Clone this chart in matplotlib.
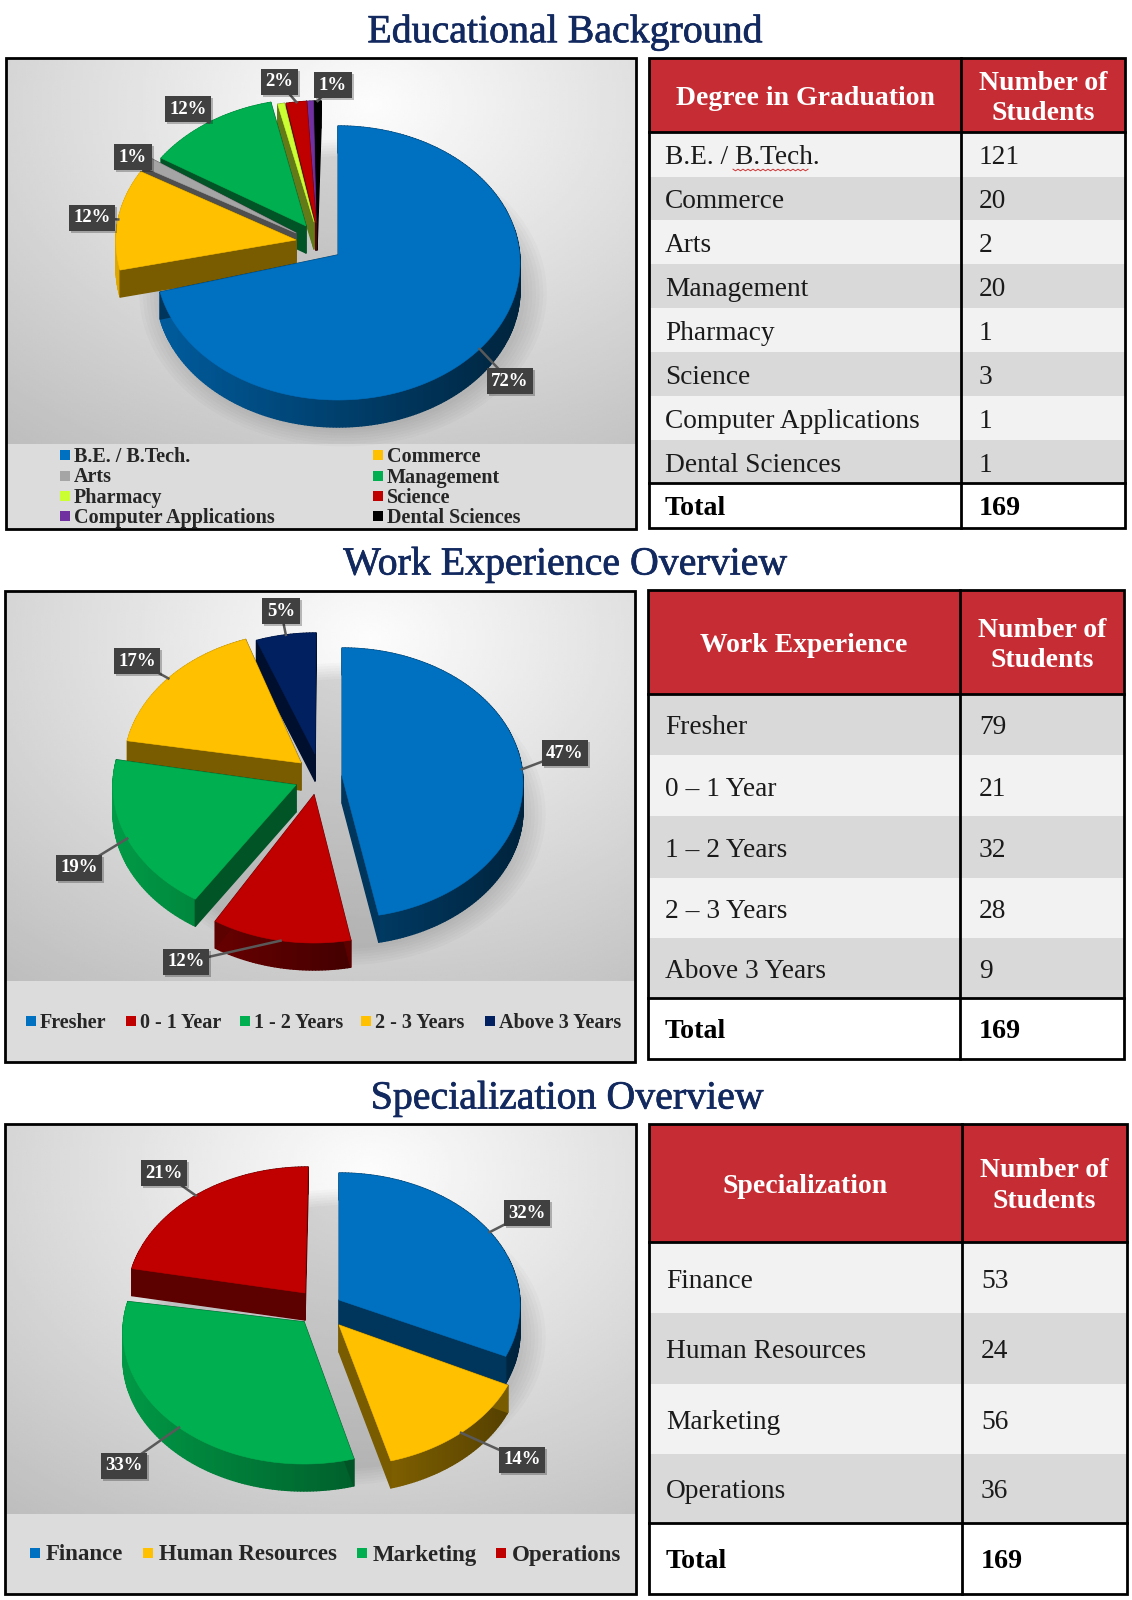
# -*- coding: utf-8 -*-

import numpy as np
import matplotlib
matplotlib.use('Agg')
import matplotlib.pyplot as plt
import matplotlib.patheffects as pe
from matplotlib.collections import PolyCollection
from matplotlib.patches import Ellipse, Polygon, Rectangle

# chart data
degree_names = ['B.E. / B.Tech.', 'Commerce', 'Arts', 'Management', 'Pharmacy',
                'Science', 'Computer Applications', 'Dental Sciences']
degree_counts = [121, 20, 2, 20, 1, 3, 1, 1]
degree_labels = ['72%', '12%', '1%', '12%', '', '2%', '', '1%']

work_names = ['Fresher', '0 - 1 Year', '1 - 2 Years', '2 - 3 Years', 'Above 3 Years']
work_rows = ['Fresher', '0 – 1 Year', '1 – 2 Years', '2 – 3 Years', 'Above 3 Years']
work_counts = [79, 21, 32, 28, 9]
work_labels = ['47%', '12%', '19%', '17%', '5%']

spec_names = ['Finance', 'Human Resources', 'Marketing', 'Operations']
spec_counts = [53, 24, 56, 36]
spec_labels = ['32%', '14%', '33%', '21%']

total_students = 169

BLUE, YELLOW, GRAY, GREEN = '#0070C0', '#FFC000', '#A5A5A5', '#00B050'
LIME, RED, PURPLE, BLACK, NAVY = '#CCFF33', '#C00000', '#7030A0', '#000000', '#002060'
TITLE_COL = '#12295F'
FONT = 'Liberation Serif'

degree_cols = [BLUE, YELLOW, GRAY, GREEN, LIME, RED, PURPLE, BLACK]
work_cols = [BLUE, RED, GREEN, YELLOW, NAVY]
spec_cols = [BLUE, YELLOW, GREEN, RED]

# exploded offsets of each slice in pixels: arc dx, arc dy, apex dx, apex dy
degree_shift = [(0, 0, 0, -8), (-40, -22, -42, -23), (-38, -27, -42, -30), (-27, -27, -32, -37),
                (-20, -25, -24, -41), (-18, -25, -22, -40), (-18, -25, -22, -40), (-17, -25, -21, -40)]
work_shift = [(4, -1, 4, -8), (-24, 24, -24, 11), (-44, 2, -42, 1), (-33, -17, -37, -21), (-22, -16, -23, -30)]
spec_shift = [(1, -2, 1, -7), (3, 27, 1, 18), (-34, 25, -34, 15), (-30, -8, -33, -14)]

degree_label_pos = [(510, 381), (92, 218), (133, 157), (188, 109), None, (279, 82), None, (333, 85)]
work_label_pos = [(565, 753), (186, 962), (79, 868), (137, 661), (281, 611)]
spec_label_pos = [(527, 1213), (522, 1460), (124, 1466), (164, 1173)]


def shade(col, k):
    return tuple(np.array(matplotlib.colors.to_rgb(col)) * k)


def panel(ax, x0, x1, y0, y1, band_y):
    # soft grey backdrop, lightest near the top middle
    yy, xx = np.mgrid[0:1:200j, 0:1:200j]
    dist = np.sqrt(((xx - 0.58) / 0.8) ** 2 + ((yy - 0.12) / 0.95) ** 2)
    img = np.clip(0.99 - 0.21 * dist, 0, 1)
    ax.imshow(img, cmap='gray', vmin=0, vmax=1, extent=(x0, x1, band_y, y0),
              aspect='auto', zorder=1, interpolation='bilinear')
    ax.add_patch(Rectangle((x0, band_y), x1 - x0, y1 - band_y, fc='#DCDCDC', ec='none', zorder=1))


def draw_pie(ax, counts, cols, shifts, cx, cy, rx, ry, depth):
    # soft shadow behind the pie
    for s in np.linspace(1.12, 1.0, 7):
        ax.add_patch(Ellipse((cx + 5, cy + depth + 3), 2 * rx * s, 2 * ry * s,
                             fc='#000000', ec='none', alpha=0.02, zorder=2))
    ends = np.cumsum(counts) / np.sum(counts) * 2 * np.pi
    starts = np.r_[0, ends[:-1]]
    mids = (starts + ends) / 2
    order = np.argsort(cy - ry * np.cos(mids))
    z = 3.0
    arc_mid = []
    for i in range(len(counts)):
        sx, sy = shifts[i][:2]
        arc_mid.append((cx + sx + rx * np.sin(mids[i]), cy + sy - ry * np.cos(mids[i])))
    for i in order:
        sx, sy, ax_, ay_ = shifts[i]
        n = max(3, int(np.degrees(ends[i] - starts[i])) + 1)
        th = np.linspace(starts[i], ends[i], n)
        arc = np.c_[cx + sx + rx * np.sin(th), cy + sy - ry * np.cos(th)]
        apex = np.array([cx + ax_, cy + ay_])
        # outer wall, darker towards the right, red is darker overall
        wall = 0.62 if cols[i] == RED else 0.82
        polys, faces = [], []
        for a, b in zip(arc[:-1], arc[1:]):
            polys.append([a, b, b + (0, depth), a + (0, depth)])
            f = (a[0] - (cx - rx)) / (2 * rx)
            faces.append(shade(cols[i], wall - 0.5 * f))
        # the two cut faces
        for a, b in ((apex, arc[0]), (apex, arc[-1])):
            polys.append([a, b, b + (0, depth), a + (0, depth)])
            faces.append(shade(cols[i], 0.48))
        ax.add_collection(PolyCollection(polys, facecolors=faces, edgecolors=faces,
                                         linewidths=1.0, zorder=z))
        ax.add_patch(Polygon(np.vstack([apex, arc]), closed=True, fc=cols[i], ec=cols[i],
                             lw=0.4, zorder=z + 0.1))
        z += 0.2
    return arc_mid


def data_labels(ax, labels, pos, arc_mid):
    for txt, p, m in zip(labels, pos, arc_mid):
        if p is None:
            continue
        ax.plot([m[0], p[0]], [m[1], p[1]], color='#595959', lw=1.8, zorder=8)
        ax.text(p[0] + 2, p[1] + 2, txt, color='none', fontsize=13.5, fontweight='bold',
                family=FONT, ha='center', va='center', zorder=8.5,
                bbox=dict(boxstyle='square,pad=0.24', fc='#000000', ec='none', alpha=0.25))
        ax.text(p[0], p[1], txt, color='white', fontsize=13.5, fontweight='bold',
                family=FONT, ha='center', va='center', zorder=9,
                bbox=dict(boxstyle='square,pad=0.24', fc='#404040', ec='none'))


def legend(ax, names, cols, xs, ys, size=14.5, gap=9):
    for name, col, x, y in zip(names, cols, xs, ys):
        ax.add_patch(Rectangle((x - 5, y - 5), 10, 10, fc=col, ec='none', zorder=5))
        ax.text(x + gap, y + 2, name, fontsize=size, fontweight='bold', family=FONT, color='#262626',
                ha='left', va='center', zorder=5)


def table(ax, x0, xd, x1, ys, head, names, counts, fills, tx0, tx1):
    # header, body rows then the total row
    rows = len(names)
    fs = 19.7
    dy = 3.5
    ax.add_patch(Rectangle((x0, ys[0]), x1 - x0, ys[1] - ys[0], fc='#C62C34', ec='none', zorder=2))
    for r in range(rows):
        ax.add_patch(Rectangle((x0, ys[r + 1]), x1 - x0, ys[r + 2] - ys[r + 1], fc=fills[r], ec='none', zorder=2))
        mid = (ys[r + 1] + ys[r + 2]) / 2 + dy
        ax.text(tx0, mid, names[r], fontsize=fs, family=FONT, color='#1A1A1A', va='center', zorder=4)
        ax.text(tx1, mid, str(counts[r]), fontsize=fs, family=FONT, color='#1A1A1A', va='center', zorder=4)
    mid = (ys[-2] + ys[-1]) / 2 + dy
    ax.text(tx0, mid, 'Total', fontsize=fs + 0.5, fontweight='bold', family=FONT, color='black', va='center', zorder=4)
    ax.text(tx1, mid, str(total_students), fontsize=fs + 0.5, fontweight='bold', family=FONT, color='black', va='center', zorder=4)
    hm = (ys[0] + ys[1]) / 2 + dy
    ax.text((x0 + xd) / 2, hm, head, fontsize=20, fontweight='bold', family=FONT, color='white',
            ha='center', va='center', zorder=4)
    ax.text((xd + x1) / 2, hm, 'Number of\nStudents', fontsize=20, fontweight='bold', family=FONT,
            color='white', ha='center', va='center', linespacing=1.3, zorder=4)
    ax.add_patch(Rectangle((x0, ys[0]), x1 - x0, ys[-1] - ys[0], fc='none', ec='black', lw=2, zorder=5))
    ax.plot([xd, xd], [ys[0], ys[-1]], color='black', lw=2, zorder=5)
    ax.plot([x0, x1], [ys[1], ys[1]], color='black', lw=2, zorder=5)
    ax.plot([x0, x1], [ys[-2], ys[-2]], color='black', lw=2, zorder=5)


fig = plt.figure(figsize=(11.32, 16), dpi=100, facecolor='white')
ax = fig.add_axes([0, 0, 1, 1])

# educational background
panel(ax, 6, 636, 58, 529, 444)
mid1 = draw_pie(ax, degree_counts, degree_cols, degree_shift, 338, 263, 182, 137, 27)
data_labels(ax, degree_labels, degree_label_pos, mid1)
legend(ax, degree_names, degree_cols,
       [65, 378, 65, 378, 65, 378, 65, 378],
       [455, 455, 475.5, 475.5, 496, 496, 516, 516])

# work experience
panel(ax, 5, 635, 591, 1062, 981)
mid2 = draw_pie(ax, work_counts, work_cols, work_shift, 338, 784, 181, 135, 27)
data_labels(ax, work_labels, work_label_pos, mid2)
legend(ax, work_names, work_cols, [31, 131, 245, 366, 490], [1021] * 5)

# specialization
panel(ax, 5, 636, 1124, 1594, 1514)
mid3 = draw_pie(ax, spec_counts, spec_cols, spec_shift, 338, 1307, 181, 132, 27)
data_labels(ax, spec_labels, spec_label_pos, mid3)
legend(ax, spec_names, spec_cols, [35, 148, 362, 501], [1553] * 4, size=16.5, gap=11)

for (x0, x1, y0, y1) in [(6, 636, 58, 529), (5, 635, 591, 1062), (5, 636, 1124, 1594)]:
    ax.add_patch(Rectangle((x0, y0), x1 - x0, y1 - y0, fc='none', ec='black', lw=2, zorder=10))

LIGHT, DARK = '#F2F2F2', '#D9D9D9'
table(ax, 649, 961, 1125, [58, 132, 176.5, 219.5, 264, 308, 352, 396, 440, 483, 527.6],
      'Degree in Graduation', degree_names, degree_counts,
      [LIGHT, DARK, LIGHT, DARK, LIGHT, DARK, LIGHT, DARK, 'white'], 665, 979)
table(ax, 648, 960, 1124, [590, 694, 755, 816, 877.5, 938, 998, 1059],
      'Work Experience', work_rows, work_counts,
      [DARK, LIGHT, DARK, LIGHT, DARK, 'white'], 665, 979)
table(ax, 649, 962, 1126.5, [1123.5, 1242, 1313, 1384, 1454, 1523, 1594],
      'Specialization', spec_names, spec_counts,
      [LIGHT, DARK, LIGHT, DARK, 'white'], 666, 981)

# spell-check squiggle under B.Tech.
sq_x = np.arange(733, 810, 2.5)
sq_y = 170 + np.where(np.arange(len(sq_x)) % 2 == 0, -0.8, 0.8)
ax.plot(sq_x, sq_y, color='#D03030', lw=0.7, zorder=6)

title_fx = [pe.withStroke(linewidth=0.5, foreground=TITLE_COL)]
for tx, ty, ts in [(565, 32.5, 'Educational Background'), (565, 565, 'Work Experience Overview'),
                   (567, 1099, 'Specialization Overview')]:
    ax.text(tx, ty, ts, fontsize=28.7, family=FONT, color=TITLE_COL, ha='center', va='center',
            path_effects=title_fx)

ax.set_xlim(0, 1132)
ax.set_ylim(1600, 0)
ax.axis('off')
fig.savefig('out.png', dpi=100)
